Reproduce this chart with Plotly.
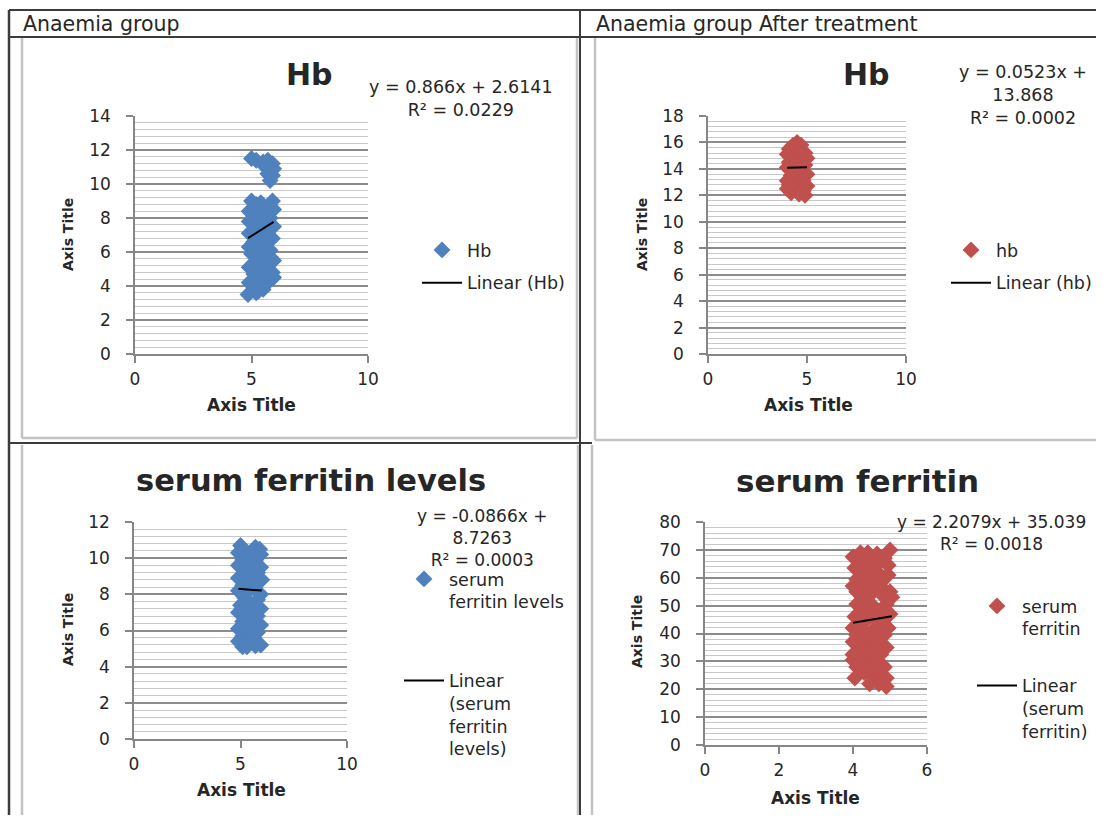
import plotly.graph_objects as go

# Figure canvas; every position below is given in canvas pixels.
W, H = 1096, 815

FONT = "DejaVu Sans"
INK = "#262626"
BLUE = "#4F81BD"
RED = "#C0504D"
AXIS_GREY = "#868686"
MAJOR_GRID = "#8c8c8c"
MINOR_GRID = "#c8c8c8"
TABLE_LINE = "#3c3c3c"
FRAME_LINE = "#c3c3c3"

# ---------------- data ----------------
# Anaemia group: Hb
hb_pre_x = [5.0, 5.2, 5.5, 5.7, 5.9, 5.6, 5.8, 5.95, 5.7, 5.9, 5.8,
            5.0, 5.4, 5.9, 5.2, 5.7, 5.95, 4.9, 5.5, 5.1, 5.8, 4.9, 5.4, 5.95,
            5.2, 5.7, 4.9, 5.5, 5.9, 5.1, 5.6, 4.9, 5.3, 5.8, 5.0, 5.5, 5.95,
            5.2, 5.7, 4.9, 5.4, 5.9, 5.1, 5.6, 5.95, 5.3, 4.9, 5.7, 5.1, 5.5,
            4.85, 5.2, 5.3, 5.6, 5.3, 5.7, 5.4, 5.2, 5.8, 5.5, 5.3, 5.4, 5.3]
hb_pre_y = [11.5, 11.4, 11.3, 11.4, 11.2, 11.0, 10.8, 10.9, 10.6, 10.5, 10.2,
            9.0, 8.9, 9.0, 8.8, 8.7, 8.5, 8.4, 8.4, 8.1, 8.0, 7.8, 7.8, 7.5,
            7.4, 7.3, 7.1, 7.0, 6.8, 6.6, 6.5, 6.3, 6.2, 6.1, 5.9, 5.8, 5.5,
            5.4, 5.3, 5.1, 5.0, 4.8, 4.7, 4.6, 4.5, 4.3, 4.2, 4.2, 3.9, 3.8,
            3.5, 3.6, 8.6, 8.2, 7.2, 6.8, 6.6, 5.7, 5.7, 5.2, 4.9, 4.1, 3.7]
hb_pre_fit = (0.866, 2.6141)

# Anaemia group after treatment: hb
hb_post_x = [4.5, 4.3, 4.7, 4.1, 4.5, 4.9, 4.0, 4.4, 5.0, 4.7, 4.1, 4.5,
             4.9, 4.0, 4.3, 4.7, 5.0, 4.2, 4.5, 4.0, 4.8, 4.3, 4.6, 5.0,
             4.0, 4.4, 4.8, 4.2, 4.9, 4.6, 4.6, 4.2, 4.6, 4.4, 4.7, 4.1]
hb_post_y = [16.0, 15.8, 15.8, 15.5, 15.5, 15.2, 15.1, 15.0, 14.8, 14.7, 14.5, 14.4,
             14.3, 14.1, 14.0, 13.9, 13.6, 13.5, 13.4, 13.1, 13.1, 12.9, 12.8, 12.7,
             12.5, 12.4, 12.3, 12.2, 12.0, 12.1, 15.3, 14.3, 14.1, 13.7, 13.5, 12.8]
hb_post_fit = (0.0523, 13.868)

# Anaemia group: serum ferritin levels
sf_pre_x = [5.0, 5.7, 5.9, 5.2, 4.9, 5.5, 5.95, 5.1, 5.7, 4.9, 5.4, 5.95,
            5.2, 5.8, 4.9, 5.5, 6.0, 5.1, 5.7, 4.9, 5.4, 5.95, 5.2, 5.8,
            5.0, 5.5, 5.95, 4.9, 5.3, 5.8, 5.1, 5.6, 5.95, 4.9, 5.4, 5.8,
            5.1, 5.6, 4.9, 5.4, 5.95, 5.1, 5.7, 5.3, 5.4, 5.5, 5.4, 5.6]
sf_pre_y = [10.7, 10.6, 10.5, 10.4, 10.3, 10.3, 10.2, 9.9, 9.9, 9.6, 9.6, 9.5,
            9.2, 9.2, 8.9, 8.9, 8.8, 8.5, 8.5, 8.2, 8.2, 8.0, 7.8, 7.7,
            7.4, 7.4, 7.2, 7.0, 6.9, 6.8, 6.5, 6.5, 6.3, 6.1, 6.0, 5.9,
            5.7, 5.6, 5.4, 5.3, 5.2, 5.1, 5.15, 5.1, 10.0, 8.6, 7.1, 5.8]
sf_pre_fit = (-0.0866, 8.7263)

# Anaemia group after treatment: serum ferritin
sf_post_x = [5.0, 4.2, 4.4, 4.65, 4.0, 4.5, 4.85, 4.25, 4.7, 4.95,
             4.05, 4.45, 4.25, 4.7, 4.95, 4.1, 4.5, 4.8, 4.0, 4.3, 4.75,
             4.1, 4.55, 5.0, 4.3, 4.85, 5.05, 4.1, 4.5, 4.9, 4.3, 4.75, 5.0,
             4.05, 4.55, 4.3, 4.8, 4.0, 4.2, 4.6, 4.95, 4.1, 4.45, 4.85,
             4.0, 4.3, 4.7, 4.2, 4.55, 4.9, 4.0, 4.4, 4.75, 4.0, 4.25, 4.6,
             4.1, 4.45, 4.85, 4.3, 4.7, 4.05, 4.55, 4.9, 4.45, 4.7, 4.9]
sf_post_y = [70, 69, 69, 68.5, 67.5, 67.5, 67, 65.5, 65.5, 64.5,
             63.5, 63.5, 61.5, 61.5, 61, 59.5, 59.5, 59, 57, 57, 57,
             55, 55, 55, 53, 53, 53, 50.5, 50.5, 50.5, 48, 48, 47,
             46, 46, 44, 44, 42, 42, 42, 42, 39.5, 39.5, 39.5,
             37, 37, 37, 35, 35, 35, 32.5, 32.5, 32.5, 30.5, 30.5, 30.5,
             28, 28, 28, 26, 26, 24, 24, 24, 22, 22, 21]
sf_post_fit = (2.2079, 35.039)


def fx(px):
    return px / W


def fy(py):
    return 1 - py / H


panels = [
    dict(x=hb_pre_x, y=hb_pre_y, fit=hb_pre_fit, color=BLUE,
         name="Hb", trend="Linear (Hb)", ax="", legend="legend",
         xr=[0, 10], xd=5, yr=[0, 14], yd=2, ym=0.4,
         dom=(135, 368, 116, 354)),
    dict(x=hb_post_x, y=hb_post_y, fit=hb_post_fit, color=RED,
         name="hb", trend="Linear (hb)", ax="2", legend="legend2",
         xr=[0, 10], xd=5, yr=[0, 18], yd=2, ym=0.4,
         dom=(708, 906, 116, 354)),
    dict(x=sf_pre_x, y=sf_pre_y, fit=sf_pre_fit, color=BLUE,
         name="serum<br>ferritin levels",
         trend="Linear<br>(serum<br>ferritin<br>levels)", ax="3", legend="legend3",
         xr=[0, 10], xd=5, yr=[0, 12], yd=2, ym=0.4,
         dom=(134, 347, 522, 739)),
    dict(x=sf_post_x, y=sf_post_y, fit=sf_post_fit, color=RED,
         name="serum<br>ferritin",
         trend="Linear<br>(serum<br>ferritin)", ax="4", legend="legend4",
         xr=[0, 6], xd=2, yr=[0, 80], yd=10, ym=2,
         dom=(705, 927, 522, 745)),
]

fig = go.Figure()
layout = {}

for i, p in enumerate(panels):
    xa, ya = "x" + p["ax"], "y" + p["ax"]
    fig.add_trace(go.Scatter(
        x=p["x"], y=p["y"], mode="markers", name=p["name"],
        xaxis=xa, yaxis=ya, legend=p["legend"], legendgroup=f"pts{i}",
        marker=dict(symbol="diamond", size=13, color=p["color"], line=dict(width=0)),
    ))
    m, b = p["fit"]
    x0, x1 = min(p["x"]), max(p["x"])
    fig.add_trace(go.Scatter(
        x=[x0, x1], y=[m * x0 + b, m * x1 + b], mode="lines", name=p["trend"],
        xaxis=xa, yaxis=ya, legend=p["legend"], legendgroup=f"fit{i}",
        line=dict(color="#000000", width=2),
    ))
    left, right, top, bottom = p["dom"]
    common = dict(showline=True, linecolor=AXIS_GREY, linewidth=1.5,
                  ticks="outside", ticklen=7, tickcolor=AXIS_GREY, tickwidth=1.5,
                  tickfont=dict(family=FONT, size=17, color=INK),
                  zeroline=False, fixedrange=True, tick0=0)
    layout["xaxis" + p["ax"]] = dict(common, domain=[fx(left), fx(right)], range=p["xr"],
                                     dtick=p["xd"], showgrid=False, anchor=ya,
                                     ticklabelstandoff=2)
    layout["yaxis" + p["ax"]] = dict(common, domain=[fy(bottom), fy(top)], range=p["yr"],
                                     dtick=p["yd"], anchor=xa, showgrid=True,
                                     gridcolor=MAJOR_GRID, gridwidth=1.5,
                                     minor=dict(dtick=p["ym"], tick0=0, showgrid=True,
                                                gridcolor=MINOR_GRID, gridwidth=1),
                                     ticklabelstandoff=12)

legend_common = dict(font=dict(family=FONT, size=17.5, color=INK), bgcolor="rgba(0,0,0,0)",
                     xanchor="left", yanchor="top", traceorder="grouped",
                     itemwidth=40, valign="top")
layout["legend"] = dict(legend_common, x=fx(417), y=fy(232), tracegroupgap=7)
layout["legend2"] = dict(legend_common, x=fx(946), y=fy(232), tracegroupgap=7)
layout["legend3"] = dict(legend_common, x=fx(399), y=fy(561), tracegroupgap=53)
layout["legend4"] = dict(legend_common, x=fx(972), y=fy(588), tracegroupgap=31)

annotations = []


def note(text, px, py, size=17, bold=False, angle=0, xanchor="center"):
    if bold:
        text = f"<b>{text}</b>"
    annotations.append(dict(text=text, x=fx(px), y=fy(py), xref="paper", yref="paper",
                            xanchor=xanchor, yanchor="middle", showarrow=False,
                            textangle=angle,
                            font=dict(family=FONT, size=size, color=INK)))


# table headers
note("Anaemia group", 21, 24, size=20.5, xanchor="left")
note("Anaemia group After treatment", 594, 24, size=20.5, xanchor="left")

# chart titles
note("Hb", 309, 74, size=30, bold=True)
note("Hb", 866, 74, size=30, bold=True)
note("serum ferritin levels", 311, 480, size=30.5, bold=True)
note("serum ferritin", 857, 481, size=31, bold=True)

# trendline equations
note("y = 0.866x + 2.6141<br>R² = 0.0229", 461, 99, size=17.5)
note("y = 0.0523x +<br>13.868<br>R² = 0.0002", 1023, 95, size=17.5)
note("y = -0.0866x +<br>8.7263<br>R² = 0.0003", 482, 538, size=17)
note("y = 2.2079x + 35.039<br>R² = 0.0018", 991, 533, size=17)

# axis titles
for px, py in [(251, 405), (808, 405), (241, 790), (815, 798)]:
    note("Axis Title", px, py, size=17, bold=True)
for px, py in [(68, 235), (642, 235), (68, 630), (637, 632)]:
    note("Axis Title", px, py, size=14, bold=True, angle=-90)

shapes = []


def line(x0, y0, x1, y1, color, width):
    shapes.append(dict(type="line", xref="paper", yref="paper",
                       x0=fx(x0), y0=fy(y0), x1=fx(x1), y1=fy(y1),
                       line=dict(color=color, width=width)))


# chart frames
for l, t, r, btm in [(22, 37, 577, 438), (595, 37, 1113, 440),
                     (22, 445, 578, 823), (592, 445, 1113, 832)]:
    line(l, t, l, btm, FRAME_LINE, 2.5)
    line(l, btm, r, btm, FRAME_LINE, 2.5)
    line(r, t, r, btm, FRAME_LINE, 2.5)

# table grid
line(9, 10, 1112, 10, TABLE_LINE, 2)
line(9, 37, 1112, 37, TABLE_LINE, 2)
line(9, 10, 9, 831, TABLE_LINE, 2.5)
line(580, 10, 580, 831, TABLE_LINE, 2)
line(9, 443, 592, 443, TABLE_LINE, 2)

fig.update_layout(
    width=W, height=H, margin=dict(l=0, r=0, t=0, b=0, autoexpand=False),
    paper_bgcolor="white", plot_bgcolor="white",
    showlegend=True, annotations=annotations, shapes=shapes,
    **layout,
)

fig.write_html("out.html")
